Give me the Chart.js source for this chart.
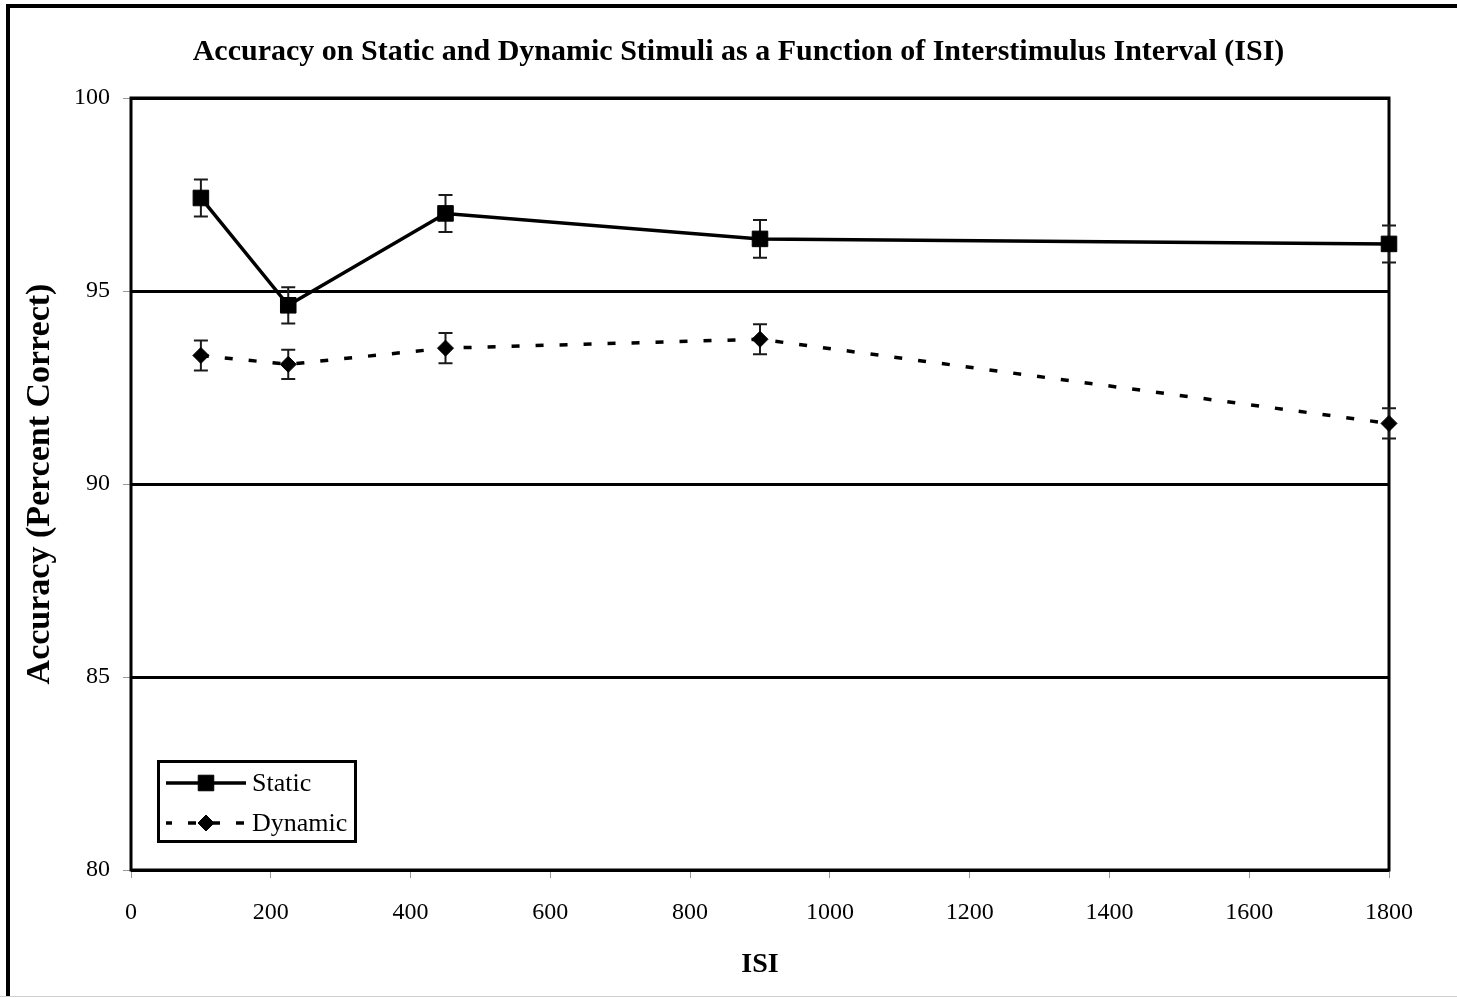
<!DOCTYPE html>
<html>
<head>
<meta charset="utf-8">
<script src="https://cdn.jsdelivr.net/npm/chart.js@4"></script>
<style>
  html, body { margin: 0; padding: 0; background: #fff; }
  canvas { display: block; }
</style>
</head>
<body>
<canvas id="isiChart" width="1457" height="998"></canvas>
<script>
// Accuracy vs ISI chart, static vs dynamic stimuli

const isiValues = [100, 225, 450, 900, 1800];
const staticAcc = [97.41, 94.63, 97.01, 96.35, 96.22];
const staticErr = [0.48, 0.47, 0.48, 0.49, 0.48];
const dynamicAcc = [93.33, 93.10, 93.52, 93.75, 91.57];
const dynamicErr = [0.39, 0.38, 0.39, 0.39, 0.39];
const xTickValues = [0, 200, 400, 600, 800, 1000, 1200, 1400, 1600, 1800];
const yTickValues = [80, 85, 90, 95, 100];

const SERIF = '"Liberation Serif", "Times New Roman", serif';

const toPoints = (xs, ys) => xs.map((x, i) => ({ x, y: ys[i] }));

// white background + the partial outer frame of the original figure
const pageFrame = {
  id: 'pageFrame',
  beforeDraw(chart) {
    const { ctx, width, height } = chart;
    ctx.save();
    ctx.fillStyle = '#fff';
    ctx.fillRect(0, 0, width, height);
    ctx.fillStyle = '#000';
    ctx.fillRect(6, 4, 4, height - 6);   // left
    ctx.fillRect(6, 4, width - 6, 4);    // top
    ctx.fillStyle = '#cfcfcf';
    ctx.fillRect(0, height - 2, width, 1); // bottom hairline
    ctx.restore();
  }
};

// box around plot area + error bars (drawn under the markers)
const plotBoxAndErrors = {
  id: 'plotBoxAndErrors',
  beforeDatasetsDraw(chart) {
    const { ctx, chartArea: a, scales: { x, y } } = chart;
    ctx.save();
    ctx.strokeStyle = '#000';
    ctx.lineWidth = 3;
    ctx.strokeRect(a.left, a.top, a.right - a.left, a.bottom - a.top);

    ctx.strokeStyle = '#1a1a1a';
    ctx.lineWidth = 2;
    chart.data.datasets.forEach(ds => {
      if (!ds.errors) return;
      ds.data.forEach((pt, i) => {
        const px = x.getPixelForValue(pt.x);
        const top = y.getPixelForValue(pt.y + ds.errors[i]);
        const bot = y.getPixelForValue(pt.y - ds.errors[i]);
        ctx.beginPath();
        ctx.moveTo(px, top); ctx.lineTo(px, bot);
        ctx.moveTo(px - 7, top); ctx.lineTo(px + 7, top);
        ctx.moveTo(px - 7, bot); ctx.lineTo(px + 7, bot);
        ctx.stroke();
      });
    });
    ctx.restore();
  }
};

// legend box in lower-left of the plot area
const boxLegend = {
  id: 'boxLegend',
  afterDraw(chart) {
    const { ctx } = chart;
    ctx.save();
    ctx.strokeStyle = '#000';
    ctx.lineWidth = 3;
    ctx.strokeRect(158.5, 761.5, 197, 80);
    const rows = [783, 823];
    chart.data.datasets.forEach((ds, i) => {
      const yy = rows[i];
      ctx.save();
      ctx.strokeStyle = '#000';
      ctx.lineWidth = ds.borderWidth;
      ctx.setLineDash(ds.borderDash || []);
      ctx.lineDashOffset = ds.borderDash ? 2 : 0;
      ctx.beginPath();
      ctx.moveTo(166, yy); ctx.lineTo(246, yy);
      ctx.stroke();
      ctx.restore();
      ctx.fillStyle = '#000';
      ctx.strokeStyle = '#000';
      ctx.lineWidth = 1;
      Chart.helpers.drawPoint(ctx, { pointStyle: ds.pointStyle, radius: ds.pointRadius, borderWidth: 1, rotation: 0 }, 206, yy);
      ctx.font = '26px ' + SERIF;
      ctx.textBaseline = 'middle';
      ctx.textAlign = 'left';
      ctx.fillText(ds.label, 252, yy + 1);
    });
    ctx.restore();
  }
};

const ctx = document.getElementById('isiChart').getContext('2d');
new Chart(ctx, {
  type: 'line',
  data: {
    datasets: [
      {
        label: 'Static',
        data: toPoints(isiValues, staticAcc),
        errors: staticErr,
        borderColor: '#000',
        backgroundColor: '#000',
        borderWidth: 3.5,
        pointStyle: 'rect',
        pointRadius: 11,
        pointBorderWidth: 1,
        tension: 0,
        clip: false
      },
      {
        label: 'Dynamic',
        data: toPoints(isiValues, dynamicAcc),
        errors: dynamicErr,
        borderColor: '#000',
        backgroundColor: '#000',
        borderWidth: 3.5,
        borderDash: [8, 16],
        pointStyle: 'rectRot',
        pointRadius: 8,
        pointBorderWidth: 1,
        tension: 0,
        clip: false
      }
    ]
  },
  options: {
    responsive: false,
    animation: false,
    layout: { padding: { left: 20, right: 0, top: 0, bottom: 0 } },
    scales: {
      x: {
        type: 'linear',
        min: 0,
        max: 1800,
        afterBuildTicks: s => { s.ticks = xTickValues.map(v => ({ value: v })); },
        afterFit: s => { s.height = 128; },
        grid: { drawOnChartArea: false, drawTicks: true, tickLength: 8, tickColor: '#999', tickWidth: 1 },
        border: { display: false },
        ticks: { color: '#000', padding: 20, maxRotation: 0, font: { family: SERIF, size: 24 }, callback: v => String(v) },
        title: { display: true, text: 'ISI', color: '#000', padding: { top: 0, bottom: 16 }, font: { family: SERIF, size: 28, weight: 'bold' } }
      },
      y: {
        min: 80,
        max: 100,
        afterBuildTicks: s => { s.ticks = yTickValues.map(v => ({ value: v })); },
        afterFit: s => { s.width = 111; },
        grid: {
          color: '#000',
          lineWidth: 3,
          drawTicks: true,
          tickLength: 8,
          tickColor: '#999',
          tickWidth: 1
        },
        border: { display: false },
        ticks: { color: '#000', padding: 13, font: { family: SERIF, size: 24 } },
        title: { display: true, text: 'Accuracy (Percent Correct)', color: '#000', padding: { top: 0, bottom: 0 }, font: { family: SERIF, size: 34, weight: 'bold' } }
      },
      // empty right-hand gutter so the page title centres like the original
      yRight: {
        position: 'right',
        min: 80,
        max: 100,
        afterFit: s => { s.width = 68; },
        grid: { display: false },
        border: { display: false },
        ticks: { display: false }
      }
    },
    plugins: {
      legend: { display: false },
      tooltip: { enabled: false },
      title: {
        display: true,
        text: 'Accuracy on Static and Dynamic Stimuli as a Function of Interstimulus Interval (ISI)',
        color: '#000',
        padding: { top: 34, bottom: 28 },
        font: { family: SERIF, size: 30, weight: 'bold' }
      }
    }
  },
  plugins: [pageFrame, plotBoxAndErrors, boxLegend]
});
</script>
</body>
</html>
